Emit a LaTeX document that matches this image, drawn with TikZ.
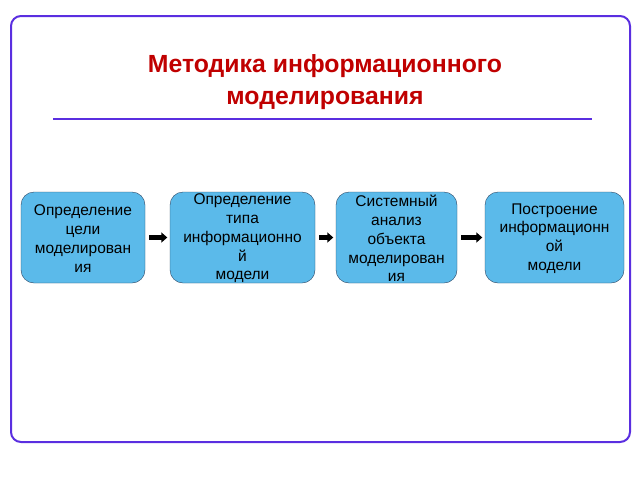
\documentclass[tikz,border=0pt]{standalone}
\usepackage{fontspec}
\setmainfont{Liberation Sans}
\usetikzlibrary{arrows.meta}
\definecolor{framecol}{HTML}{5A2EE0}
\definecolor{titlecol}{HTML}{C00000}
\definecolor{boxfill}{HTML}{5BBAEA}
\definecolor{boxline}{HTML}{2A4462}
\begin{document}
\begin{tikzpicture}[x=1pt, y=-1pt, line join=round,
		stepbox/.style={draw=boxline, fill=boxfill, rounded corners=13pt, minimum height=91pt, inner sep=0pt},
		steptext/.style={align=center, inner sep=0pt, font=\fontsize{15.5}{18.8}\selectfont},
		flow/.style={-{Triangle[length=6pt, width=10pt]}, line width=5pt, shorten <=4pt, shorten >=2.5pt}]
	\useasboundingbox (0,0) rectangle (640,480);
	% frame and title
	\draw[framecol, line width=2pt, rounded corners=10pt] (11,16) rectangle (630,442);
	\node[titlecol, align=center, font=\bfseries\fontsize{24.8}{32}\selectfont] (title) at (325,82)
		{Методика информационного\\моделирования};
	\draw[framecol, line width=2pt] (53,119) -- (592,119);
	% steps
	\node[stepbox, minimum width=124pt] (b1) at (83,237.5) {};
	\node[stepbox, minimum width=145pt] (b2) at (242.5,237.5) {};
	\node[stepbox, minimum width=121pt] (b3) at (396.5,237.5) {};
	\node[stepbox, minimum width=139pt] (b4) at (554.5,237.5) {};
	\node[steptext] (t1) at (83,238.5) {Определение\\цели\\моделирован\\ия};
	\node[steptext] (t2) at (242.5,238.5) {Определение\\типа\\информационно\\й\\модели};
	\node[steptext] (t3) at (396.5,238.5) {Системный\\анализ\\объекта\\моделирован\\ия};
	\node[steptext] (t4) at (554.5,238.5) {Построение\\информационн\\ой\\модели};
	\foreach \a/\b in {b1/b2, b2/b3, b3/b4} {
		\draw[flow] (\a) -- (\b);
	}
\end{tikzpicture}
\end{document}
